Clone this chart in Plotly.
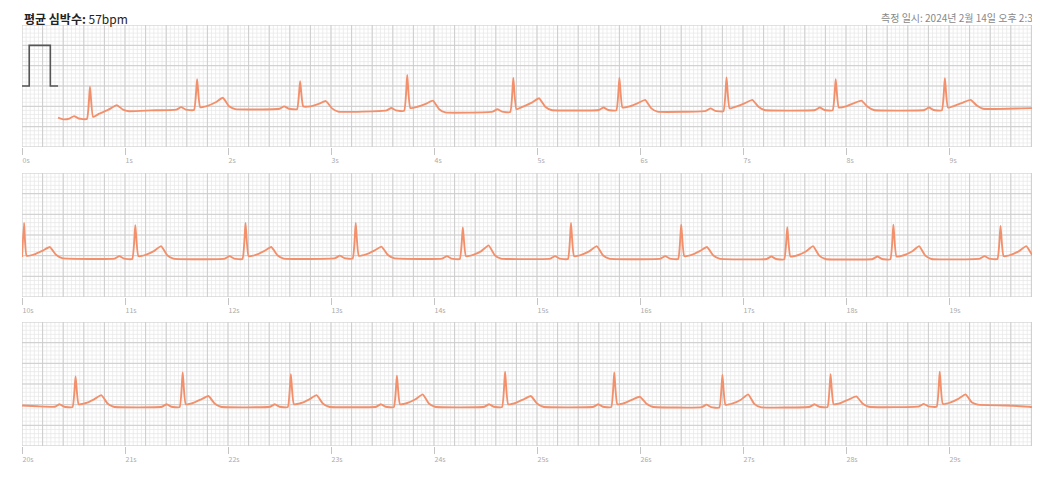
import numpy as np
import plotly.graph_objects as go
from plotly.subplots import make_subplots

# ECG trace, seconds / mV (3 rows of 10 s)
row1_t = [0.35, 0.40,
          0.46, 0.505, 0.55, 0.63, 0.66, 0.69, 0.75, 0.84, 0.92, 0.98, 1.04, 1.25,
          1.50, 1.545, 1.59, 1.67, 1.70, 1.73, 1.80, 1.88, 1.95, 2.01, 2.07,
          2.50, 2.545, 2.59, 2.67, 2.70, 2.73, 2.80, 2.88, 2.95, 3.01, 3.07,
          3.54, 3.585, 3.63, 3.71, 3.74, 3.77, 3.84, 3.92, 3.99, 4.05, 4.11,
          4.57, 4.615, 4.66, 4.74, 4.77, 4.80, 4.87, 4.95, 5.02, 5.08, 5.14,
          5.60, 5.645, 5.69, 5.77, 5.80, 5.83, 5.90, 5.98, 6.05, 6.11, 6.17,
          6.64, 6.685, 6.73, 6.81, 6.84, 6.87, 6.94, 7.02, 7.09, 7.15, 7.21,
          7.70, 7.745, 7.79, 7.87, 7.90, 7.93, 8.00, 8.08, 8.15, 8.21, 8.27,
          8.76, 8.805, 8.85, 8.93, 8.96, 8.99, 9.06, 9.14, 9.21, 9.27, 9.33,
          9.70, 9.90, 10.0]
row1_mv = [-0.78, -0.82,
           -0.80, -0.74, -0.80, -0.81, -0.02, -0.76, -0.68, -0.58, -0.47, -0.58, -0.62, -0.60,
           -0.58, -0.52, -0.58, -0.59, 0.17, -0.52, -0.49, -0.40, -0.29, -0.50, -0.57,
           -0.56, -0.50, -0.56, -0.57, 0.12, -0.50, -0.50, -0.44, -0.37, -0.55, -0.63,
           -0.60, -0.54, -0.60, -0.61, 0.27, -0.54, -0.51, -0.44, -0.36, -0.57, -0.65,
           -0.63, -0.57, -0.63, -0.64, 0.20, -0.57, -0.50, -0.41, -0.30, -0.51, -0.59,
           -0.59, -0.53, -0.59, -0.60, 0.20, -0.53, -0.50, -0.42, -0.34, -0.55, -0.63,
           -0.61, -0.55, -0.61, -0.62, 0.21, -0.55, -0.50, -0.42, -0.34, -0.51, -0.59,
           -0.59, -0.53, -0.59, -0.60, 0.17, -0.53, -0.50, -0.42, -0.36, -0.51, -0.59,
           -0.59, -0.53, -0.59, -0.60, 0.19, -0.53, -0.48, -0.40, -0.34, -0.48, -0.56,
           -0.55, -0.54, -0.54]

row2_t = [10.00, 10.02, 10.045, 10.12, 10.20, 10.27, 10.33, 10.39,
          10.90, 10.945, 10.99, 11.07, 11.10, 11.13, 11.20, 11.28, 11.35, 11.41, 11.47,
          11.97, 12.015, 12.06, 12.14, 12.17, 12.20, 12.27, 12.35, 12.42, 12.48, 12.54,
          13.04, 13.085, 13.13, 13.21, 13.24, 13.27, 13.34, 13.42, 13.49, 13.55, 13.61,
          14.08, 14.125, 14.17, 14.25, 14.28, 14.31, 14.38, 14.46, 14.53, 14.59, 14.65,
          15.13, 15.175, 15.22, 15.30, 15.33, 15.36, 15.43, 15.51, 15.58, 15.64, 15.70,
          16.20, 16.245, 16.29, 16.37, 16.40, 16.43, 16.50, 16.58, 16.65, 16.71, 16.77,
          17.23, 17.275, 17.32, 17.40, 17.43, 17.46, 17.53, 17.61, 17.68, 17.74, 17.80,
          18.26, 18.305, 18.35, 18.43, 18.46, 18.49, 18.56, 18.64, 18.71, 18.77, 18.83,
          19.30, 19.345, 19.39, 19.47, 19.50, 19.53, 19.60, 19.68, 19.75, 19.81, 19.87, 20.00]
row2_mv = [-0.53, 0.29, -0.50, -0.47, -0.38, -0.29, -0.48, -0.56,
           -0.57, -0.51, -0.57, -0.58, 0.24, -0.51, -0.48, -0.39, -0.27, -0.49, -0.57,
           -0.57, -0.51, -0.57, -0.58, 0.29, -0.51, -0.48, -0.39, -0.29, -0.49, -0.57,
           -0.56, -0.50, -0.56, -0.57, 0.29, -0.50, -0.47, -0.38, -0.28, -0.48, -0.56,
           -0.57, -0.51, -0.57, -0.58, 0.18, -0.51, -0.48, -0.39, -0.25, -0.49, -0.57,
           -0.57, -0.51, -0.57, -0.58, 0.29, -0.51, -0.48, -0.39, -0.27, -0.49, -0.57,
           -0.57, -0.51, -0.57, -0.58, 0.25, -0.51, -0.48, -0.39, -0.29, -0.49, -0.57,
           -0.58, -0.52, -0.58, -0.59, 0.19, -0.52, -0.49, -0.40, -0.27, -0.50, -0.58,
           -0.58, -0.52, -0.58, -0.59, 0.25, -0.52, -0.49, -0.40, -0.27, -0.50, -0.58,
           -0.57, -0.51, -0.57, -0.58, 0.22, -0.51, -0.48, -0.39, -0.27, -0.49, -0.57, -0.57]

row3_t = [20.00, 20.15,
          20.32, 20.365, 20.41, 20.49, 20.52, 20.55, 20.62, 20.70, 20.77, 20.83, 20.89,
          21.36, 21.405, 21.45, 21.53, 21.56, 21.59, 21.66, 21.74, 21.81, 21.87, 21.93,
          22.41, 22.455, 22.50, 22.58, 22.61, 22.64, 22.71, 22.79, 22.86, 22.92, 22.98,
          23.44, 23.485, 23.53, 23.61, 23.64, 23.67, 23.74, 23.82, 23.89, 23.95, 24.01,
          24.49, 24.535, 24.58, 24.66, 24.69, 24.72, 24.79, 24.87, 24.94, 25.00, 25.06,
          25.55, 25.595, 25.64, 25.72, 25.75, 25.78, 25.85, 25.93, 26.00, 26.06, 26.12,
          26.60, 26.645, 26.69, 26.77, 26.80, 26.83, 26.90, 26.98, 27.05, 27.11, 27.17,
          27.65, 27.695, 27.74, 27.82, 27.85, 27.88, 27.95, 28.03, 28.10, 28.16, 28.22,
          28.71, 28.755, 28.80, 28.88, 28.91, 28.94, 29.01, 29.09, 29.16, 29.22, 29.28,
          29.55, 29.78, 29.86, 29.90, 30.00]
row3_mv = [-0.52, -0.54,
           -0.55, -0.49, -0.55, -0.56, 0.18, -0.49, -0.46, -0.37, -0.27, -0.47, -0.55,
           -0.55, -0.49, -0.55, -0.56, 0.28, -0.49, -0.46, -0.37, -0.29, -0.47, -0.55,
           -0.55, -0.49, -0.55, -0.56, 0.24, -0.49, -0.46, -0.37, -0.27, -0.47, -0.55,
           -0.55, -0.49, -0.55, -0.56, 0.20, -0.49, -0.46, -0.37, -0.25, -0.47, -0.55,
           -0.55, -0.49, -0.55, -0.56, 0.30, -0.49, -0.46, -0.37, -0.29, -0.47, -0.55,
           -0.55, -0.49, -0.55, -0.56, 0.28, -0.49, -0.46, -0.37, -0.31, -0.47, -0.55,
           -0.56, -0.50, -0.56, -0.57, 0.22, -0.50, -0.47, -0.38, -0.25, -0.48, -0.56,
           -0.55, -0.49, -0.55, -0.56, 0.24, -0.49, -0.46, -0.37, -0.30, -0.47, -0.55,
           -0.54, -0.48, -0.54, -0.55, 0.30, -0.48, -0.45, -0.36, -0.25, -0.44, -0.50,
           -0.52, -0.55, -0.58, -0.64, -0.64]

# 1 mV calibration pulse at the start of the first row
cal_t = [0.0, 0.07, 0.07, 0.275, 0.275, 0.35]
cal_mv = [0.0, 0.0, 1.0, 1.0, 0.0, 0.0]

row_starts = [0, 10, 20]
rows = [(row1_t, row1_mv), (row2_t, row2_mv), (row3_t, row3_mv)]

# the page puts the figure 8px in from the top-left corner
W, H = 1032, 481
LEFT = 14
PX_PER_SEC = 103
visible_sec = (W - LEFT) / PX_PER_SEC
# pixel rows of each strip inside the figure (top, bottom)
strip_px = [(17, 139), (165, 289), (314, 438)]

ECG_COLOR = "#F3906C"
FONT = "Noto Sans CJK KR, Noto Sans, sans-serif"

fig = make_subplots(rows=3, cols=1)


def grid_lines(x0, x1, step, y0, y1, ystep):
    xs, ys = [], []
    for x in np.arange(x0, x1 + 1e-9, step):
        xs += [x, x, None]
        ys += [y0, y1, None]
    for y in np.arange(y0, y1 + 1e-9, ystep):
        xs += [x0, x1, None]
        ys += [y, y, None]
    return xs, ys


for i, start in enumerate(row_starts):
    r = i + 1
    fx, fy = grid_lines(start, start + 10, 0.04, -1.5, 1.5, 0.1)
    fig.add_trace(go.Scatter(x=fx, y=fy, mode="lines", line=dict(color="#e6e6e6", width=0.7),
                             hoverinfo="skip", showlegend=False), row=r, col=1)
    mx, my = grid_lines(start, start + 10, 0.2, -1.5, 1.5, 0.5)
    fig.add_trace(go.Scatter(x=mx, y=my, mode="lines", line=dict(color="#cdcdcd", width=1),
                             hoverinfo="skip", showlegend=False), row=r, col=1)
    if i == 0:
        fig.add_trace(go.Scatter(x=cal_t, y=cal_mv, mode="lines",
                                 line=dict(color="#555555", width=1.6),
                                 hoverinfo="skip", showlegend=False), row=r, col=1)
    t, mv = rows[i]
    fig.add_trace(go.Scatter(x=t, y=mv, mode="lines",
                             line=dict(color=ECG_COLOR, width=1.9, shape="spline", smoothing=0.4),
                             showlegend=False), row=r, col=1)

    top, bottom = strip_px[i]
    ticks = [start + k for k in range(10)]
    fig.update_xaxes(range=[start, start + visible_sec], tickvals=ticks,
                     ticktext=["{}s".format(k) for k in ticks],
                     ticks="outside", ticklen=7, tickcolor="#c4c4c4", tickwidth=1,
                     ticklabelposition="outside right", ticklabelstandoff=7,
                     tickfont=dict(size=7, color="#aaaaaa", family=FONT),
                     showgrid=False, zeroline=False, showline=False,
                     row=r, col=1)
    fig.update_yaxes(range=[-1.5, 1.5], domain=[1 - bottom / H, 1 - top / H],
                     showgrid=False, zeroline=False, showticklabels=False, ticks="",
                     row=r, col=1)

fig.add_annotation(text="<b>평균 심박수:</b> 57bpm", xref="paper", yref="paper",
                   x=0, y=1, xanchor="left", yanchor="top", showarrow=False,
                   font=dict(size=12, color="#222222", family=FONT))
fig.add_annotation(text="측정 일시: 2024년 2월 14일 오후 2:31", xref="paper", yref="paper",
                   x=1, y=1, xanchor="right", yanchor="top",
                   showarrow=False, font=dict(size=10, color="#888888", family=FONT))

fig.update_layout(width=W, height=H, margin=dict(l=LEFT, r=0, t=0, b=0),
                  plot_bgcolor="white", paper_bgcolor="white",
                  font=dict(family=FONT))
fig.write_html("out.html")
